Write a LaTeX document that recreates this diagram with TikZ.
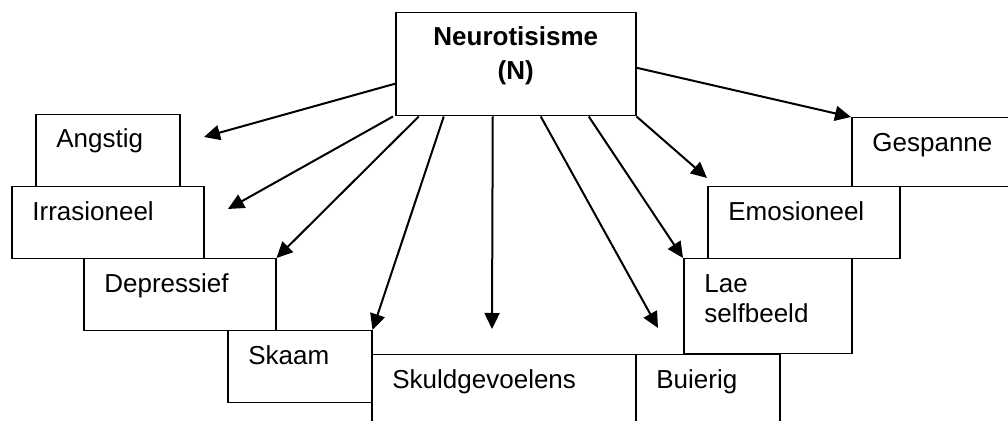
\documentclass[tikz,border=0pt]{standalone}
\usepackage{fontspec}
\setmainfont{Liberation Sans}
\usetikzlibrary{arrows.meta}

\begin{document}
\begin{tikzpicture}[x=0.5pt, y=-0.5pt,
    box/.style={draw, rectangle, line width=0.75pt, anchor=north west, inner sep=0pt, minimum height=36pt},
    txt/.style={anchor=base west, inner sep=0pt, align=left, font=\fontsize{13pt}{15pt}\selectfont},
    pijl/.style={-{Triangle[length=8pt, width=7.5pt]}, line width=1pt}]
    \useasboundingbox (0,0) rectangle (1008,421);
    \clip (0,0) rectangle (1008,421);

    % Neurotisisme
    \node[box, minimum width=120pt, minimum height=51.5pt] (N) at (395,12) {};
    \node[txt, anchor=base, font=\fontsize{13pt}{15pt}\selectfont\bfseries] (Ntxt) at ([yshift=-17pt]N.north) {Neurotisisme};
    \node[txt, anchor=base, font=\fontsize{13pt}{15pt}\selectfont\bfseries] (Nkort) at ([yshift=-34pt]N.north) {(N)};

    % Boxes
    \node[box, minimum width=72pt] (angstig) at (35,114) {};
    \node[box, minimum width=96pt] (irrasioneel) at (11,186) {};
    \node[box, minimum width=96pt] (depressief) at (83,258) {};
    \node[box, minimum width=72pt] (skaam) at (227,330) {};
    \node[box, minimum width=132pt] (skuld) at (371,354) {};
    \node[box, minimum width=72pt] (buierig) at (635,354) {};
    \node[box, minimum width=84pt, minimum height=47.5pt] (lae) at (683,258) {};
    \node[box, minimum width=96pt] (emosioneel) at (707,186) {};
    \node[box, minimum width=96pt, minimum height=34.5pt] (gespanne) at (851,117) {};

    % Labels
    \node[txt] (angstigtxt) at ([xshift=10.5pt, yshift=-17pt]angstig.north west) {Angstig};
    \node[txt] (irrasioneeltxt) at ([xshift=10.5pt, yshift=-17.5pt]irrasioneel.north west) {Irrasioneel};
    \node[txt] (depressieftxt) at ([xshift=10.5pt, yshift=-17.5pt]depressief.north west) {Depressief};
    \node[txt] (skaamtxt) at ([xshift=10.5pt, yshift=-17.5pt]skaam.north west) {Skaam};
    \node[txt] (skuldtxt) at ([xshift=10.5pt, yshift=-17.5pt]skuld.north west) {Skuldgevoelens};
    \node[txt] (buierigtxt) at ([xshift=10.5pt, yshift=-17.5pt]buierig.north west) {Buierig};
    \node[txt] (laetxt) at ([xshift=10.5pt, yshift=-32.5pt]lae.north west) {Lae\\selfbeeld};
    \node[txt] (emosioneeltxt) at ([xshift=10.5pt, yshift=-17.5pt]emosioneel.north west) {Emosioneel};
    \node[txt] (gespannetxt) at ([xshift=10.5pt, yshift=-17.5pt]gespanne.north west) {Gespanne};

    % Arrow ends
    \coordinate (angstigtip) at (204,137);
    \coordinate (irrasioneeltip) at (228,209);
    \coordinate (skuldtip) at (492,329);
    \coordinate (buierigtip) at (658,328);
    \coordinate (emosioneeltip) at (707,178);

    % Edges
    \draw[pijl] ([yshift=-9.75pt]N.west) -- (angstigtip);
    \draw[pijl] ([xshift=-1pt]N.south west) -- (irrasioneeltip);
    \draw[pijl] ([xshift=-48.5pt]N.south) -- (depressief.north east);
    \draw[pijl] ([xshift=-36pt]N.south) -- (skaam.north east);
    \draw[pijl] ([xshift=-11.5pt]N.south) -- (skuldtip);
    \draw[pijl] ([xshift=12.5pt]N.south) -- (buierigtip);
    \draw[pijl] ([xshift=36.5pt]N.south) -- (lae.north west);
    \draw[pijl] (N.south east) -- (emosioneeltip);
    \draw[pijl] ([yshift=-1.75pt]N.east) -- (gespanne.north west);
\end{tikzpicture}
\end{document}
